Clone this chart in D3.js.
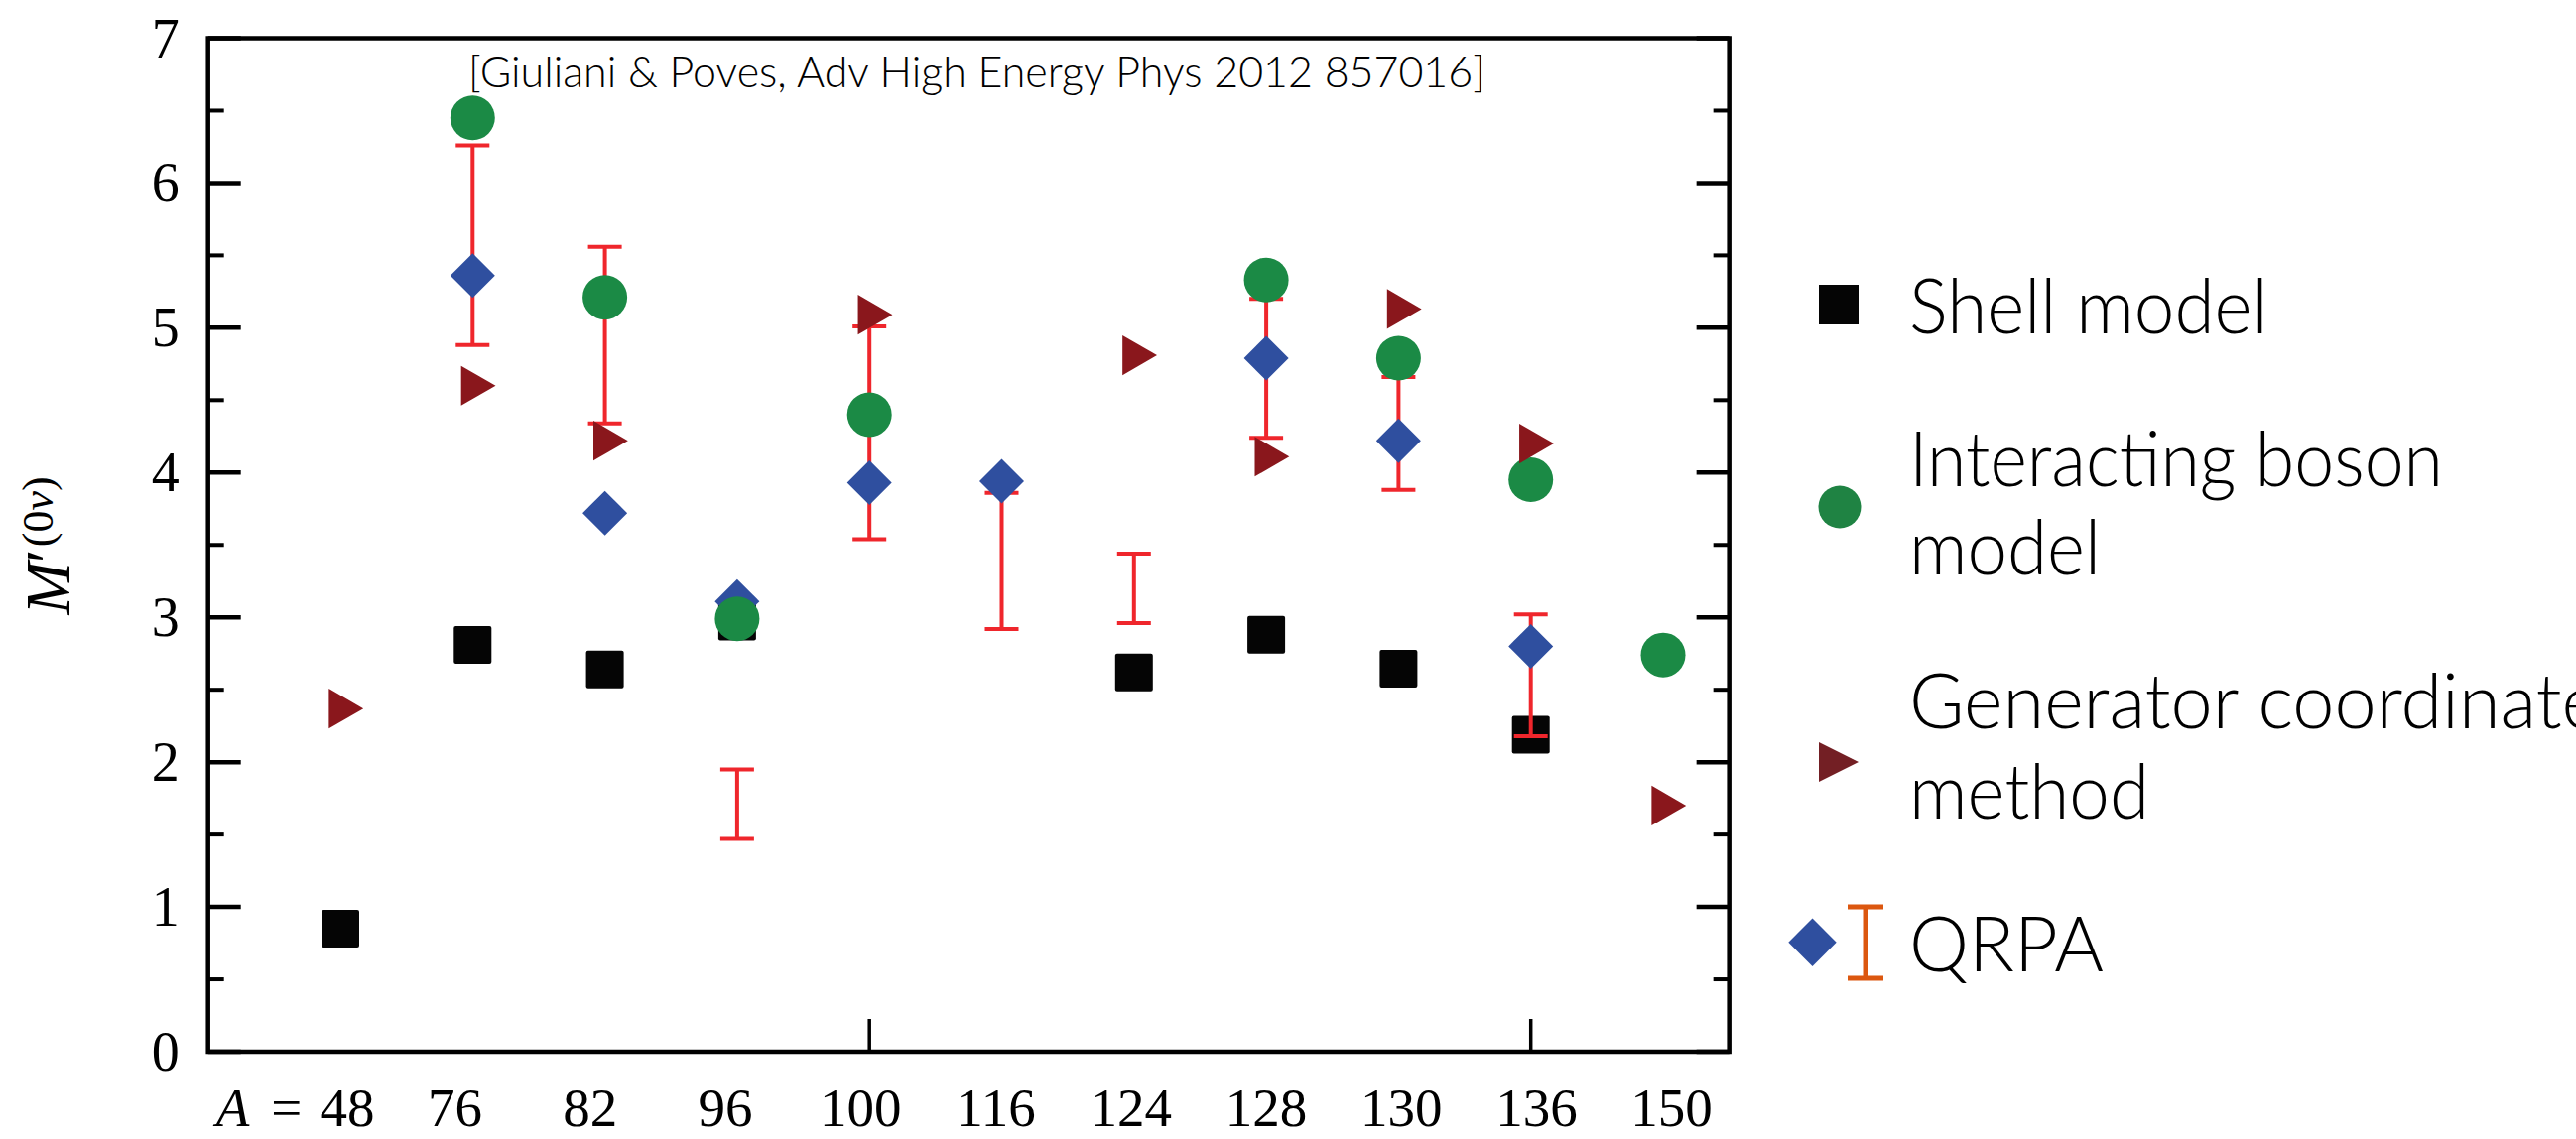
<!DOCTYPE html>
<html>
<head>
<meta charset="utf-8">
<script src="https://cdn.jsdelivr.net/npm/d3@7"></script>
<style>
  html, body { margin: 0; padding: 0; background: #fff; overflow: hidden; }
  svg { display: block; }
</style>
</head>
<body>
<svg id="chart" width="2596" height="1148"></svg>
<script>
// Mass numbers of the double-beta emitters along the x axis
const categories = [48, 76, 82, 96, 100, 116, 124, 128, 130, 136, 150];
const yTickValues = [0, 1, 2, 3, 4, 5, 6, 7];
const yMinorValues = [0.5, 1.5, 2.5, 3.5, 4.5, 5.5, 6.5];
const xTickMarks = [100, 136];

// Nuclear matrix elements M'(0ν) by method: [A, value]
const shellModel = [[48, 0.85], [76, 2.81], [82, 2.64], [96, 2.97], [124, 2.62], [128, 2.88], [130, 2.645], [136, 2.19]];
const interactingBoson = [[76, 6.45], [82, 5.21], [96, 2.99], [100, 4.40], [128, 5.33], [130, 4.79], [136, 3.95], [150, 2.74]];
const generatorCoordinate = [[48, 2.37], [76, 4.60], [82, 4.22], [100, 5.09], [124, 4.81], [128, 4.11], [130, 5.13], [136, 4.20], [150, 1.70]];
const qrpa = [[76, 5.36], [82, 3.72], [96, 3.11], [100, 3.93], [116, 3.94], [128, 4.79], [130, 4.22], [136, 2.80]];
// QRPA spread between calculations: [A, low, high]
const qrpaRange = [[76, 4.88, 6.26], [82, 4.34, 5.56], [96, 1.47, 1.95], [100, 3.54, 5.01], [116, 2.92, 3.86], [124, 2.96, 3.44], [128, 4.24, 5.20], [130, 3.88, 4.66], [136, 2.18, 3.02]];

const legendItems = [
  { key: "shell", lines: ["Shell model"] },
  { key: "ibm", lines: ["Interacting boson", "model"] },
  { key: "gcm", lines: ["Generator coordinate", "method"] },
  { key: "qrpa", lines: ["QRPA"] }
];
const citation = "[Giuliani & Poves, Adv High Energy Phys 2012 857016]";

const colors = {
  shell: "#050505",
  ibm: "#1b8a45",
  gcm: "#8a171c",
  qrpa: "#2f4f9f",
  bar: "#ef262c",
  legendIbm: "#1f8343",
  legendGcm: "#731f24",
  legendBar: "#dc570f"
};

const svg = d3.select("#chart");
const serif = "'Liberation Serif', 'Times New Roman', serif";
const sans = "Lato, 'Open Sans', sans-serif";

// Scales
const x = d3.scalePoint().domain(categories).range([343, 1676]);
const xLabel = d3.scalePoint().domain(categories).range([322.4, 1684.6]);
const y = d3.scaleLinear().domain([0, 7]).range([1060, 38.5]);

const plotLeft = x(categories[0]) - x.step();
const plotRight = x(categories[categories.length - 1]) + x.step() / 2;
const plotTop = y(7), plotBottom = y(0);

// Frame
const frame = svg.append("g").attr("stroke", "#000").attr("fill", "none");
frame.append("rect")
  .attr("x", plotLeft).attr("y", plotTop)
  .attr("width", plotRight - plotLeft).attr("height", plotBottom - plotTop)
  .attr("stroke-width", 4.5);

const majorLen = 33, minorLen = 16;
yTickValues.forEach(v => {
  frame.append("line").attr("x1", plotLeft).attr("x2", plotLeft + majorLen)
    .attr("y1", y(v)).attr("y2", y(v)).attr("stroke-width", 4.5);
  frame.append("line").attr("x1", plotRight).attr("x2", plotRight - majorLen)
    .attr("y1", y(v)).attr("y2", y(v)).attr("stroke-width", 4.5);
});
yMinorValues.forEach(v => {
  frame.append("line").attr("x1", plotLeft).attr("x2", plotLeft + minorLen)
    .attr("y1", y(v)).attr("y2", y(v)).attr("stroke-width", 4);
  frame.append("line").attr("x1", plotRight).attr("x2", plotRight - minorLen)
    .attr("y1", y(v)).attr("y2", y(v)).attr("stroke-width", 4);
});
xTickMarks.forEach(a => {
  frame.append("line").attr("x1", x(a)).attr("x2", x(a))
    .attr("y1", plotBottom).attr("y2", plotBottom - majorLen).attr("stroke-width", 3.5);
});

// Y tick labels
svg.append("g").selectAll("text").data(yTickValues).join("text")
  .attr("x", plotLeft - 29).attr("y", d => y(d))
  .attr("dy", "0.34em")
  .attr("text-anchor", "end")
  .attr("font-family", serif).attr("font-size", 56)
  .text(d => d);

// X tick labels
const labelBase = 1135;
const xl = svg.append("g").attr("font-family", serif).attr("font-size", 55);
categories.forEach((a, i) => {
  if (i === 0) {
    xl.append("text").attr("x", xLabel(a)).attr("y", labelBase)
      .attr("text-anchor", "start").text(a);
    const pre = xl.append("text").attr("x", xLabel(a) - 18).attr("y", labelBase)
      .attr("text-anchor", "end");
    pre.append("tspan").attr("font-style", "italic").text("A");
    pre.append("tspan").attr("dx", 22).text("=");
  } else {
    xl.append("text").attr("x", xLabel(a)).attr("y", labelBase)
      .attr("text-anchor", "middle").text(a);
  }
});

// Y axis title: M'(0ν)
const yt = svg.append("text")
  .attr("transform", "translate(70,550) rotate(-90)")
  .attr("text-anchor", "middle")
  .attr("font-family", serif).attr("font-size", 64);
yt.append("tspan").attr("font-style", "italic").text("M");
yt.append("tspan").attr("dx", -1).text("\u2032");
yt.append("tspan").attr("font-size", 44).attr("dy", -17).attr("dx", 2).text("(0");
yt.append("tspan").attr("font-size", 44).attr("font-style", "italic").text("\u03BD");
yt.append("tspan").attr("font-size", 44).text(")");

// Citation
svg.append("text")
  .attr("x", 472).attr("y", 88)
  .attr("font-family", sans).attr("font-size", 44).attr("font-weight", 300)
  .attr("textLength", 1025).attr("lengthAdjust", "spacingAndGlyphs")
  .text(citation);

// Marker helpers
const sq = 38;
const triPath = d3.symbol(d3.symbolTriangle, 700)();
const diamond = r => `M0,${-r}L${r},0L0,${r}L${-r},0Z`;

// Shell model squares
svg.append("g").selectAll("rect").data(shellModel).join("rect")
  .attr("x", d => x(d[0]) - sq / 2).attr("y", d => y(d[1]) - sq / 2)
  .attr("width", sq).attr("height", sq).attr("rx", 2)
  .attr("fill", colors.shell);

// QRPA ranges
const bars = svg.append("g").attr("stroke", colors.bar).attr("stroke-width", 4).attr("fill", "none");
qrpaRange.forEach(d => {
  const cx = x(d[0]), capW = 34;
  bars.append("line").attr("x1", cx).attr("x2", cx).attr("y1", y(d[1])).attr("y2", y(d[2]));
  bars.append("line").attr("x1", cx - capW / 2).attr("x2", cx + capW / 2).attr("y1", y(d[1])).attr("y2", y(d[1]));
  bars.append("line").attr("x1", cx - capW / 2).attr("x2", cx + capW / 2).attr("y1", y(d[2])).attr("y2", y(d[2]));
});

// QRPA diamonds
svg.append("g").selectAll("path").data(qrpa).join("path")
  .attr("d", diamond(22.5))
  .attr("transform", d => `translate(${x(d[0])},${y(d[1])})`)
  .attr("fill", colors.qrpa);

// Interacting boson model circles
svg.append("g").selectAll("circle").data(interactingBoson).join("circle")
  .attr("cx", d => x(d[0])).attr("cy", d => y(d[1])).attr("r", 22.5)
  .attr("fill", colors.ibm);

// Generator coordinate method triangles
svg.append("g").selectAll("path").data(generatorCoordinate).join("path")
  .attr("d", triPath)
  .attr("transform", d => `translate(${x(d[0])},${y(d[1])}) rotate(90)`)
  .attr("fill", colors.gcm);

// Legend
const lg = svg.append("g");
const textX = 1924;
const lgFont = 76;
const lineBase = { shell: [335.5], ibm: [490, 579.4], gcm: [734, 824.5], qrpa: [979] };
const lineLen = { "Shell model": 361.6, "Interacting boson": 538, "model": 193, "Generator coordinate": 697, "method": 242, "QRPA": 196 };
legendItems.forEach(item => {
  item.lines.forEach((ln, j) => {
    lg.append("text")
      .attr("x", textX).attr("y", lineBase[item.key][j])
      .attr("font-family", sans).attr("font-size", lgFont).attr("font-weight", 300)
      .attr("textLength", lineLen[ln]).attr("lengthAdjust", "spacingAndGlyphs")
      .text(ln);
  });
});
lg.append("rect").attr("x", 1833).attr("y", 287).attr("width", 40).attr("height", 40).attr("fill", colors.shell);
lg.append("circle").attr("cx", 1854).attr("cy", 511).attr("r", 21.5).attr("fill", colors.legendIbm);
lg.append("path").attr("d", "M0,-20L40,0L0,20Z").attr("transform", "translate(1833,768)").attr("fill", colors.legendGcm);
lg.append("path").attr("d", diamond(24.2)).attr("transform", "translate(1826.5,949.8)").attr("fill", colors.qrpa);
const lb = lg.append("g").attr("stroke", colors.legendBar).attr("stroke-width", 5);
lb.append("line").attr("x1", 1880).attr("x2", 1880).attr("y1", 914).attr("y2", 986);
lb.append("line").attr("x1", 1862).attr("x2", 1898).attr("y1", 914).attr("y2", 914);
lb.append("line").attr("x1", 1862).attr("x2", 1898).attr("y1", 986).attr("y2", 986);
</script>
</body>
</html>
